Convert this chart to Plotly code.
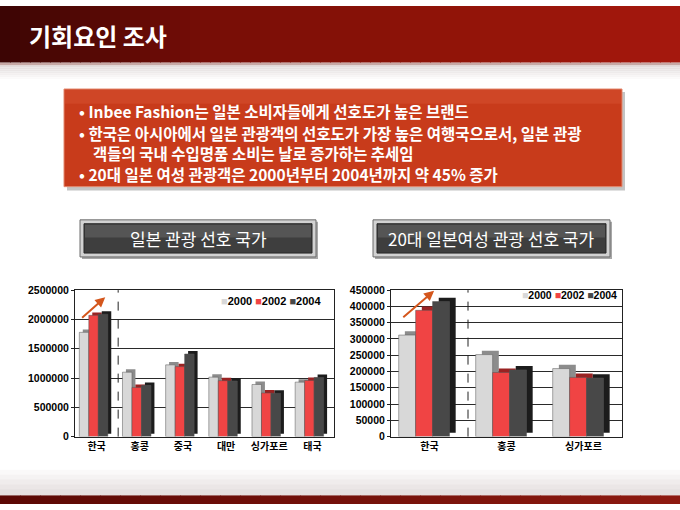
import plotly.graph_objects as go

W, H = 680, 510

years = ['2000', '2002', '2004']

# 일본 관광 선호 국가 (left chart)
countries = ['한국', '홍콩', '중국', '대만', '싱가포르', '태국']
visits_2000 = [1780000, 1100000, 1225000, 1015000, 890000, 930000]
visits_2002 = [2070000, 840000, 1195000, 955000, 745000, 960000]
visits_2004 = [2090000, 875000, 1410000, 950000, 740000, 1010000]

# 20대 일본여성 관광 선호 국가 (right chart)
countries_w = ['한국', '홍콩', '싱가포르']
women_2000 = [312000, 252000, 209000]
women_2002 = [388000, 197000, 182000]
women_2004 = [415000, 205000, 180000]

title = '기회요인 조사'
bullets = ['• Inbee Fashion는 일본 소비자들에게 선호도가 높은 브랜드',
           '• 한국은 아시아에서 일본 관광객의 선호도가 가장 높은 여행국으로서, 일본 관광',
           '객들의 국내 수입명품 소비는 날로 증가하는 추세임',
           '• 20대 일본 여성 관광객은 2000년부터 2004년까지 약 45% 증가']
label_left = '일본 관광 선호 국가'
label_right = '20대 일본여성 관광 선호 국가'

KR = 'Noto Sans CJK KR'
NUM = 'Liberation Sans, Arial, sans-serif'
front_colors = ['#d8d8d8', '#f04444', '#484848']
side_colors = ['#8c8c8c', '#9a2222', '#1c1c1c']
offsets = [-0.4, -0.18, 0.04]
bar_w = 0.22


def px(x):
    return x / W


def py(y):
    return 1 - y / H


def rect(x0, y0, x1, y1, fill, line=None, lw=0, opacity=1):
    return dict(type='rect', xref='paper', yref='paper', x0=px(x0), x1=px(x1),
                y0=py(y1), y1=py(y0), fillcolor=fill, opacity=opacity, layer='below',
                line=dict(color=line or fill, width=lw))


def mix(c1, c2, t):
    a = [int(c1[i:i + 2], 16) for i in (1, 3, 5)]
    b = [int(c2[i:i + 2], 16) for i in (1, 3, 5)]
    return '#' + ''.join('%02x' % round(a[k] + (b[k] - a[k]) * t) for k in range(3))


fig = go.Figure()


def add_chart(cats, series, xa, ya, depth):
    for i, vals in enumerate(series):
        fig.add_trace(go.Bar(x=cats, y=vals, base=depth, offset=offsets[i] + 0.08, width=bar_w,
                             marker=dict(color=side_colors[i], line=dict(width=0)),
                             xaxis=xa, yaxis=ya, showlegend=False, hoverinfo='skip'))
        fig.add_trace(go.Bar(x=cats, y=vals, offset=offsets[i], width=bar_w, name=years[i],
                             marker=dict(color=front_colors[i], line=dict(color='#555', width=0.5)),
                             xaxis=xa, yaxis=ya, showlegend=False))


add_chart(countries, [visits_2000, visits_2002, visits_2004], 'x', 'y', 50000)
add_chart(countries_w, [women_2000, women_2002, women_2004], 'x2', 'y2', 12000)

shapes = []
# header band
stops = [(0, '#3c0504'), (200, '#760d06'), (450, '#911408'), (680, '#a6180e')]
for k in range(0, 680, 10):
    for j in range(len(stops) - 1):
        if stops[j][0] <= k < stops[j + 1][0]:
            t = (k - stops[j][0]) / (stops[j + 1][0] - stops[j][0])
            c = mix(stops[j][1], stops[j + 1][1], t)
    shapes.append(rect(k, 0, k + 11, 58, c))
shapes.append(rect(0, 58, 680, 61, '#c7a9a6'))
for k in range(8):
    shapes.append(rect(0, 61 + k * 2, 680, 63 + k * 2, mix('#e2dcdc', '#ffffff', k / 7)))
# bottom strip
for k in range(0, 680, 20):
    shapes.append(rect(k, 501, k + 21, 510, mix('#5c0804', '#8e1a10', k / 680)))
for k in range(6):
    shapes.append(rect(0, 470 + k * 5, 680, 476 + k * 5, mix('#ffffff', '#e6e0e0', k / 5)))

# text box
shapes.append(rect(67, 88, 625, 189, '#8a8a8a', opacity=0.5))
shapes.append(rect(64, 85, 622, 185, '#c83b1b', '#e48a70', 1))
shapes.append(rect(65, 86, 621, 100, '#cf4626'))

# label buttons
for x0, x1 in [(80, 316), (373, 610)]:
    shapes.append(rect(x0 + 2, 221, x1 + 2, 259, '#a8a8a8'))
    shapes.append(rect(x0, 219, x1, 257, '#d2d2d2', '#6a6a6a', 1))
    shapes.append(rect(x0 + 4, 223, x1 - 4, 253, '#3e3e3e', '#262626', 1))
    shapes.append(rect(x0 + 5, 224, x1 - 5, 237, '#555555'))

# dashed separators after the first category
shapes.append(dict(type='line', xref='x', yref='y domain', x0=0.5, x1=0.5, y0=0, y1=1,
                   line=dict(color='#222', width=1, dash='dash')))
shapes.append(dict(type='line', xref='x2', yref='y2 domain', x0=0.5, x1=0.5, y0=0, y1=1,
                   line=dict(color='#222', width=1, dash='dash')))

annotations = [
    dict(text=title, x=px(27), y=py(30), xref='paper', yref='paper', xanchor='left',
         yanchor='middle', showarrow=False, font=dict(family=KR, size=24, color='white', weight='bold')),
]
for (text, xx, yy) in zip(bullets, [77, 77, 91, 77], [108, 130, 151, 172]):
    annotations.append(dict(text=text, x=px(xx), y=py(yy), xref='paper', yref='paper',
                            xanchor='left', yanchor='middle', showarrow=False,
                            font=dict(family=KR, size=15.5, color='white', weight='bold')))
annotations.append(dict(text=label_left, x=px(198), y=py(238), xref='paper', yref='paper',
                        xanchor='center', yanchor='middle', showarrow=False,
                        font=dict(family=KR, size=17, color='white')))
annotations.append(dict(text=label_right, x=px(491), y=py(238), xref='paper', yref='paper',
                        xanchor='center', yanchor='middle', showarrow=False,
                        font=dict(family=KR, size=17, color='white')))

legend_text = ' '.join('<span style="color:%s">■</span>%s' % (c, y) for c, y in zip(front_colors, years))
annotations.append(dict(text=legend_text, x=px(219), y=py(302), xref='paper', yref='paper',
                        xanchor='left', yanchor='middle', showarrow=False,
                        font=dict(family=NUM, size=11, color='black', weight='bold')))
annotations.append(dict(text=legend_text, x=px(619), y=py(296), xref='paper', yref='paper',
                        xanchor='right', yanchor='middle', showarrow=False,
                        font=dict(family=NUM, size=10.5, color='black', weight='bold')))

# rising-trend arrows
annotations.append(dict(x=0.2, y=2380000, ax=-0.37, ay=2005000, xref='x', yref='y', axref='x',
                        ayref='y', text='', showarrow=True, arrowhead=2, arrowsize=1,
                        arrowwidth=2, arrowcolor='#d4561c'))
annotations.append(dict(x=0.06, y=448000, ax=-0.36, ay=363000, xref='x2', yref='y2', axref='x2',
                        ayref='y2', text='', showarrow=True, arrowhead=2, arrowsize=1,
                        arrowwidth=2, arrowcolor='#d4561c'))

xcommon = dict(type='category', showline=True, mirror=True, linecolor='#222', linewidth=1,
               showgrid=False, ticks='', fixedrange=True,
               tickfont=dict(family=KR, size=10, color='black', weight='bold'))
ycommon = dict(showline=True, mirror=True, linecolor='#222', linewidth=1, showgrid=True,
               gridcolor='#2a2a2a', gridwidth=1, ticks='outside', ticklen=3, tickcolor='#222',
               tickformat='d', zeroline=False, fixedrange=True,
               tickfont=dict(family=NUM, size=10.5, color='black', weight='bold'))

fig.update_layout(
    width=W, height=H, margin=dict(l=0, r=0, t=0, b=0),
    paper_bgcolor='white', plot_bgcolor='white',
    barmode='overlay', showlegend=False,
    shapes=shapes, annotations=annotations,
    xaxis=dict(xcommon, domain=[px(75), px(334)], anchor='y', range=[-0.5, 5.5]),
    yaxis=dict(ycommon, domain=[py(441), py(291)], anchor='x', range=[0, 2500000], dtick=500000),
    xaxis2=dict(xcommon, domain=[px(391), px(622)], anchor='y2', range=[-0.5, 2.5]),
    yaxis2=dict(ycommon, domain=[py(441), py(291)], anchor='x2', range=[0, 450000], dtick=50000),
)

# the page's default body margin would push the 680x510 slide off the window
fig.write_html('out.html', config={'displayModeBar': False},
               post_script="document.body.style.margin='0';document.body.style.overflow='hidden';")
